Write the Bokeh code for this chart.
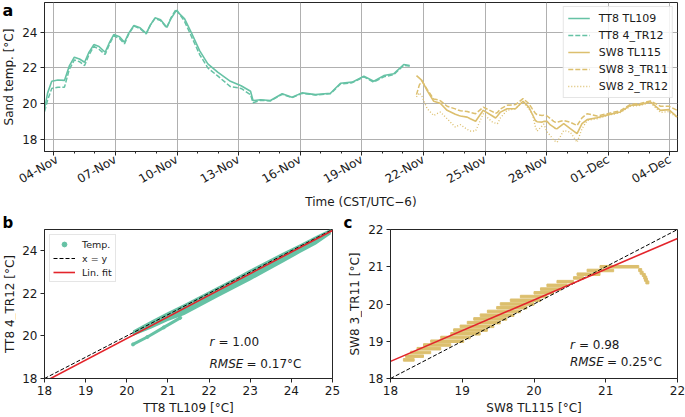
import math
from bokeh.plotting import figure
from bokeh.models import FixedTicker, Range1d, Legend, LegendItem, Label, Title
from bokeh.layouts import column, row
from bokeh.embed import file_html
from bokeh.resources import INLINE
from bokeh.core.properties import value

# ---------------- data ----------------
# panel a: time in days since 04-Nov 00:00 (CST)
tt8_t = [-0.45, -0.3, -0.1, 0.2, 0.52, 0.75, 1.0, 1.25, 1.5, 1.7, 1.95, 2.2, 2.5, 2.7, 2.92,
         3.2, 3.44, 3.65, 3.9, 4.2, 4.5, 4.7, 4.93, 5.2, 5.5, 5.7, 5.96, 6.37, 6.69, 7.1,
         7.5, 7.98, 8.6, 9.12, 9.58, 9.7, 10.06, 10.55, 11.12, 11.6, 12.09, 12.74, 13.47,
         13.96, 14.53, 15.1, 15.58, 16.07, 16.55, 17.04, 17.33]
tt8_tl109 = [19.7, 20.6, 21.25, 21.32, 21.3, 22.1, 22.6, 22.5, 22.32, 22.85, 23.31, 23.2, 22.88,
             23.4, 23.87, 23.75, 23.44, 23.95, 24.38, 24.25, 23.94, 24.4, 24.81, 24.7, 24.28,
             24.75, 25.22, 24.75, 24.0, 22.97, 22.23, 21.76, 21.25, 21.0, 20.69, 20.17, 20.21,
             20.17, 20.55, 20.36, 20.6, 20.5, 20.58, 21.14, 21.2, 21.53, 21.25, 21.57, 21.67,
             22.19, 22.13]
tt8_4tr12 = [19.55, 20.2, 20.85, 20.92, 20.92, 21.9, 22.45, 22.35, 22.13, 22.7, 23.2, 23.05,
             22.75, 23.3, 23.8, 23.65, 23.35, 23.9, 24.35, 24.2, 23.9, 24.4, 24.78, 24.65,
             24.25, 24.8, 25.3, 24.6, 23.8, 22.75, 22.0, 21.55, 20.95, 20.85, 20.5, 20.05,
             20.18, 20.15, 20.52, 20.33, 20.58, 20.48, 20.55, 21.1, 21.17, 21.5, 21.2, 21.5,
             21.62, 22.15, 22.1]

sw8_t = [17.66, 17.8, 17.93, 18.18, 18.5, 18.74, 18.83, 19.15, 19.55, 19.72, 19.8, 20.13,
         20.28, 20.54, 20.91, 21.36, 21.51, 21.6, 21.75, 22.07, 22.48, 22.85, 23.13, 23.3,
         23.45, 23.53, 23.78, 23.86, 24.02, 24.18, 24.34, 24.43, 24.51, 24.83, 25.15, 25.48,
         25.72, 25.97, 26.45, 27.02, 27.59, 28.08, 28.56, 29.05, 29.54, 29.95, 30.36]
sw8_tl115 = [21.57, 21.43, 21.29, 20.73, 20.13, 20.05, 20.0, 19.62, 19.4, 19.33, 19.3, 19.24,
             19.15, 19.01, 19.62, 19.3, 19.19, 19.3, 19.52, 19.71, 19.71, 20.13, 19.8, 19.4,
             19.05, 18.98, 18.96, 19.0, 19.0, 18.8, 18.68, 18.6, 18.59, 18.87, 18.59, 18.31,
             18.87, 19.1, 19.2, 19.38, 19.53, 19.9, 19.94, 20.1, 19.62, 19.66, 19.24]
sw8_3tr11 = [20.5, 21.05, 21.25, 20.8, 20.25, 20.2, 20.15, 19.85, 19.7, 19.62, 19.6, 19.55,
             19.5, 19.43, 19.8, 19.55, 19.45, 19.5, 19.7, 19.9, 19.94, 20.28, 20.0, 19.7,
             19.45, 19.38, 19.33, 19.35, 19.3, 19.15, 19.0, 18.95, 18.96, 19.05, 18.95, 18.77,
             19.2, 19.43, 19.3, 19.45, 19.6, 19.95, 20.0, 20.15, 19.85, 19.85, 19.62]
sw8_2tr12 = [20.37, 20.6, 20.4, 19.71, 19.33, 19.48, 19.52, 19.15, 18.68, 18.78, 18.81, 18.55,
             18.46, 18.46, 19.43, 18.96, 18.9, 18.87, 19.2, 19.62, 19.71, 20.1, 19.7, 19.43,
             18.7, 18.45, 18.75, 18.85, 18.4, 18.2, 17.93, 17.88, 17.83, 18.49, 18.4, 17.83,
             18.59, 19.05, 19.15, 19.35, 19.5, 19.85, 19.9, 20.05, 19.5, 19.55, 19.2]

a_tick_days = [0, 3, 6, 9, 12, 15, 18, 21, 24, 27, 30]
a_tick_labels = ["04-Nov", "07-Nov", "10-Nov", "13-Nov", "16-Nov", "19-Nov", "22-Nov",
                 "25-Nov", "28-Nov", "01-Dec", "04-Dec"]
a_minor_days = [1, 2, 4, 5, 7, 8, 10, 11, 13, 14, 16, 17, 19, 20, 22, 23, 25, 26, 28, 29]
a_yticks = [18, 20, 22, 24]
a_ylim = (17.31, 25.67)

# panel b: TT8 TL109 vs TT8 4_TR12 (scatter band + lower branch)
b_band_x = [20.15, 20.6, 21.0, 21.4, 21.8, 22.2, 22.6, 23.0, 23.4, 23.8, 24.2, 24.6, 24.96]
b_band_lo = [20.0, 20.35, 20.7, 20.98, 21.4, 21.8, 22.2, 22.6, 23.03, 23.45, 23.88, 24.3, 24.78]
b_band_hi = [20.25, 20.72, 21.12, 21.5, 21.9, 22.3, 22.7, 23.12, 23.52, 23.92, 24.3, 24.7, 25.03]
b_branch_x = [20.15, 20.5, 20.9, 21.3]
b_branch_y = [19.6, 19.95, 20.4, 20.85]
b_lim = [18, 25]
b_fit_slope, b_fit_icpt = 1.015, -0.42
b_xticks = [18, 19, 20, 21, 22, 23, 24, 25]
b_yticks = [18, 20, 22, 24]
b_r, b_rmse = "1.00", "0.17°C"

# panel c: SW8 TL115 vs SW8 3_TR11 (quantised levels)
c_lvl = [18.5, 18.6, 18.7, 18.8, 18.9, 19.0, 19.1, 19.2, 19.3, 19.4, 19.5, 19.6, 19.7, 19.8,
         19.9, 20.0, 20.1, 20.2, 20.3, 20.4, 20.5, 20.6, 20.7, 20.8, 20.9, 21.0]
c_x0 = [18.18, 18.21, 18.28, 18.37, 18.46, 18.56, 18.70, 18.84, 18.88, 18.97, 19.07, 19.16,
        19.25, 19.35, 19.48, 19.53, 19.67, 19.81, 20.00, 20.09, 20.18, 20.32, 20.55, 20.60,
        20.74, 20.92]
c_x1 = [18.33, 18.46, 18.56, 18.70, 18.84, 19.02, 19.11, 19.25, 19.35, 19.44, 19.53, 19.62,
        19.72, 19.81, 19.90, 20.00, 20.09, 20.18, 20.27, 20.37, 20.46, 20.55, 20.69, 20.92,
        21.11, 21.46]
c_tail_x = [21.48, 21.5, 21.53, 21.55, 21.56, 21.58]
c_tail_y = [20.91, 20.84, 20.78, 20.71, 20.65, 20.58]
c_lim = [18, 22]
c_fit_slope, c_fit_icpt = 0.825, 3.61
c_ticks = [18, 19, 20, 21, 22]
c_r, c_rmse = "0.98", "0.25°C"

# ---------------- style ----------------
TEAL = "#66c2a5"
GOLD = "#dcbf6e"
RED = "#e3242b"
DARK = "#262626"
TXT = "#1a1a1a"
FONT = "DejaVu Sans"
FS = "12px"


def style(p):
    p.outline_line_color = DARK
    p.outline_line_width = 1
    p.background_fill_color = "white"
    p.border_fill_color = "white"
    for ax in p.axis:
        ax.axis_line_color = DARK
        ax.major_tick_line_color = DARK
        ax.minor_tick_line_color = DARK
        ax.major_tick_in = 0
        ax.major_tick_out = 4
        ax.minor_tick_in = 0
        ax.minor_tick_out = 2
        ax.major_label_text_font = FONT
        ax.major_label_text_font_size = FS
        ax.major_label_text_color = TXT
        ax.axis_label_text_font = FONT
        ax.axis_label_text_font_size = FS
        ax.axis_label_text_font_style = "normal"
        ax.axis_label_text_color = TXT
        ax.major_label_standoff = 3


def strip(width, height, ylim, ylabel_txt, ylabel_x):
    """Narrow text-only figure (frame aligned with its neighbour) holding the y-axis title."""
    s = figure(width=width, height=height, x_range=Range1d(0, width), y_range=Range1d(*ylim),
               output_backend="svg", toolbar_location=None, x_axis_location=None,
               y_axis_location=None, min_border=0)
    s.outline_line_color = None
    s.grid.visible = False
    s.text(x=[ylabel_x], y=[(ylim[0] + ylim[1]) / 2], text=[ylabel_txt], text_font=value(FONT),
           text_font_size=FS, text_color=TXT, angle=math.pi / 2,
           text_align="center", text_baseline="middle")
    return s


def strip_title(s, text, offset):
    s.add_layout(Title(text=text, align="left", offset=offset, standoff=-4,
                       vertical_align="bottom", text_font=FONT, text_font_size="15px",
                       text_font_style="bold", text_color="black"), "above")


def stat_labels(p, x, y1, y2, r_txt, rmse_txt):
    common = dict(text_font=FONT, text_font_size=FS, text_baseline="middle",
                  text_align="left", text_color=TXT)
    p.add_layout(Label(x=x, y=y1, text="r", text_font_style="italic", **common))
    p.add_layout(Label(x=x, y=y1, x_offset=9, text="= " + r_txt, **common))
    p.add_layout(Label(x=x, y=y2, text="RMSE", text_font_style="italic", **common))
    p.add_layout(Label(x=x, y=y2, x_offset=37, text="= " + rmse_txt, **common))


# ---------------- panel a ----------------
pa = figure(width=669, height=212, x_range=Range1d(-0.453, 30.37), y_range=Range1d(*a_ylim),
            output_backend="svg", toolbar_location=None,
            min_border_left=28, min_border_right=8, min_border_top=2, min_border_bottom=61)
style(pa)
pa.xaxis.ticker = FixedTicker(ticks=a_tick_days, minor_ticks=a_minor_days)
pa.xaxis.major_label_overrides = {d: lab for d, lab in zip(a_tick_days, a_tick_labels)}
pa.xaxis.major_label_orientation = math.pi / 6
pa.xaxis.axis_label = "Time (CST/UTC−6)"
pa.xaxis.axis_label_standoff = 0
pa.yaxis.ticker = FixedTicker(ticks=a_yticks)
for g in (pa.xgrid, pa.ygrid):
    g.grid_line_color = "#b0b0b0"
    g.grid_line_width = 1

r1 = pa.line(tt8_t, tt8_tl109, color=TEAL, line_width=1.6)
r2 = pa.line(tt8_t, tt8_4tr12, color=TEAL, line_width=1.5, line_dash="5 2")
r3 = pa.line(sw8_t, sw8_tl115, color=GOLD, line_width=1.6)
r4 = pa.line(sw8_t, sw8_3tr11, color=GOLD, line_width=1.5, line_dash="5 2")
r5 = pa.line(sw8_t, sw8_2tr12, color=GOLD, line_width=1.4, line_dash="1 2")

leg_a = Legend(items=[LegendItem(label="TT8 TL109", renderers=[r1]),
                      LegendItem(label="TT8 4_TR12", renderers=[r2]),
                      LegendItem(label="SW8 TL115", renderers=[r3]),
                      LegendItem(label="SW8 3_TR11", renderers=[r4]),
                      LegendItem(label="SW8 2_TR12", renderers=[r5])],
               location="top_right", label_text_font=FONT, label_text_font_size="11px",
               label_text_color=TXT,
               glyph_width=22, glyph_height=14, label_height=14, spacing=3, padding=4,
               margin=4, label_standoff=9, border_line_color="#cccccc", border_line_width=1,
               background_fill_alpha=0.85)
pa.add_layout(leg_a)

sa = strip(16, 212, a_ylim, "Sand temp. [°C]", 8.5)
# panel letter "a" sits inside the strip's frame (frame aligned with panel a's frame)
sa.text(x=[2], y=[a_ylim[1] - 0.44], text=["a"], text_font=value(FONT),
        text_font_size="16px", text_font_style="bold", text_color="black",
        text_align="left", text_baseline="alphabetic")

# ---------------- panel b ----------------
pb = figure(width=326, height=205, x_range=Range1d(18, 25), y_range=Range1d(18, 25),
            output_backend="svg", toolbar_location=None,
            min_border_left=28, min_border_right=10, min_border_top=17, min_border_bottom=38)
style(pb)
pb.xaxis.ticker = FixedTicker(ticks=b_xticks)
pb.yaxis.ticker = FixedTicker(ticks=b_yticks)
pb.xaxis.axis_label = "TT8 TL109 [°C]"
pb.xaxis.axis_label_standoff = 3
pb.xgrid.grid_line_color = None
pb.ygrid.grid_line_color = None

pb.varea(x=b_band_x, y1=b_band_lo, y2=b_band_hi, fill_color=TEAL)
pb.line(b_branch_x, b_branch_y, color=TEAL, line_width=3)
sb = pb.scatter(b_branch_x, b_branch_y, size=3, color=TEAL)
lb1 = pb.line(b_lim, b_lim, color="black", line_width=1, line_dash="4 2")
lb2 = pb.line(b_lim, [b_fit_slope * v + b_fit_icpt for v in b_lim], color=RED, line_width=1.6)
leg_b = Legend(items=[LegendItem(label="Temp.", renderers=[sb]),
                      LegendItem(label="x = y", renderers=[lb1]),
                      LegendItem(label="Lin. fit", renderers=[lb2])],
               location="top_left", label_text_font=FONT, label_text_font_size="9.5px",
               label_text_color=TXT,
               glyph_width=22, glyph_height=12, label_height=12, spacing=2, padding=3,
               margin=5, label_standoff=7, border_line_color="#cccccc", border_line_width=1,
               background_fill_alpha=0.85)
pb.add_layout(leg_b)
stat_labels(pb, 22.01, 19.70, 18.66, b_r, b_rmse)

sbs = strip(16, 205, (18, 25), "TT8 4_TR12 [°C]", 9)
strip_title(sbs, "b", 2)

# ---------------- panel c ----------------
pc = figure(width=323, height=205, x_range=Range1d(18, 22), y_range=Range1d(18, 22),
            output_backend="svg", toolbar_location=None,
            min_border_left=28, min_border_right=8, min_border_top=17, min_border_bottom=38)
style(pc)
pc.xaxis.ticker = FixedTicker(ticks=c_ticks)
pc.yaxis.ticker = FixedTicker(ticks=c_ticks)
pc.xaxis.axis_label = "SW8 TL115 [°C]"
pc.xaxis.axis_label_standoff = 3
pc.xgrid.grid_line_color = None
pc.ygrid.grid_line_color = None

pc.hbar(y=c_lvl, left=c_x0, right=c_x1, height=0.068, color=GOLD)
pc.scatter(c_tail_x, c_tail_y, size=3, marker="square", color=GOLD)
pc.line(c_lim, c_lim, color="black", line_width=1, line_dash="4 2")
pc.line(c_lim, [c_fit_slope * v + c_fit_icpt for v in c_lim], color=RED, line_width=1.6)
stat_labels(pc, 20.5, 18.91, 18.43, c_r, c_rmse)

scs = strip(20, 205, (18, 22), "SW8 3_TR11 [°C]", 12)
strip_title(scs, "c", 1)

layout = column(row(sa, pa), row(sbs, pb, scs, pc))
open("out.html", "w").write(file_html(layout, INLINE))
